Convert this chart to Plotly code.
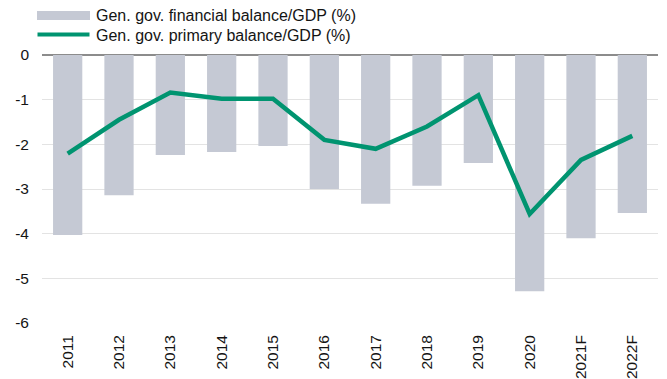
import plotly.graph_objects as go

years = ["2011", "2012", "2013", "2014", "2015", "2016", "2017", "2018",
         "2019", "2020", "2021F", "2022F"]
financial_balance = [-4.03, -3.14, -2.24, -2.17, -2.04, -3.0, -3.33, -2.93,
                     -2.42, -5.29, -4.10, -3.54]
primary_balance = [-2.21, -1.45, -0.84, -0.98, -0.98, -1.90, -2.10, -1.60,
                   -0.90, -3.56, -2.35, -1.81]
y_ticks = [0, -1, -2, -3, -4, -5, -6]
y_tick_text = ["0", "-1", "-2", "-3", "-4", "-5", "-6"]

bar_name = "Gen. gov. financial balance/GDP (%)"
line_name = "Gen. gov. primary balance/GDP (%)"

BAR_COLOR = "#c5c9d4"
LINE_COLOR = "#009470"
FONT = "Liberation Sans, Arial, sans-serif"
TEXT_COLOR = "#141414"

fig = go.Figure()
fig.add_trace(go.Bar(x=years, y=financial_balance, name=bar_name,
                     marker=dict(color=BAR_COLOR, line=dict(width=0)),
                     width=0.57, showlegend=False))
fig.add_trace(go.Scatter(x=years, y=primary_balance, name=line_name,
                         mode="lines", line=dict(color=LINE_COLOR, width=4.5),
                         showlegend=False))

# Custom legend: wide swatches with text to their right
W, H = 667, 379
L, R, T, B = 42, 9, 55, 56
pw, ph = W - L - R, H - T - B


def px(x):
    return (x - L) / pw


def py(y):
    return (H - B - y) / ph


fig.add_shape(type="rect", xref="paper", yref="paper",
              x0=px(37), x1=px(90), y0=py(20), y1=py(11),
              fillcolor=BAR_COLOR, line=dict(width=0))
fig.add_shape(type="line", xref="paper", yref="paper",
              x0=px(37.5), x1=px(89.5), y0=py(34.5), y1=py(34.5),
              line=dict(color=LINE_COLOR, width=4))
for label, yc in [(bar_name, 15.5), (line_name, 35)]:
    fig.add_annotation(text=label, xref="paper", yref="paper",
                       x=px(94), y=py(yc), xanchor="left", yanchor="middle",
                       showarrow=False, font=dict(size=16, color=TEXT_COLOR))

fig.update_layout(
    width=W, height=H,
    margin=dict(l=L, r=R, t=T, b=B, autoexpand=False),
    paper_bgcolor="white", plot_bgcolor="white",
    font=dict(family=FONT, size=15.5, color=TEXT_COLOR),
    bargap=0.43,
)
fig.update_xaxes(tickangle=-90, showgrid=False, showline=False,
                 ticks="", ticklabelstandoff=8, automargin=False)
fig.update_yaxes(range=[-6, 0], tickvals=y_ticks, ticktext=y_tick_text,
                 showgrid=True, gridcolor="#e3e3e3",
                 gridwidth=1, zeroline=True, zerolinecolor="#8c8c8c",
                 zerolinewidth=1.5, showline=False, ticks="",
                 ticklabelstandoff=12, automargin=False)

fig.write_html("out.html")
